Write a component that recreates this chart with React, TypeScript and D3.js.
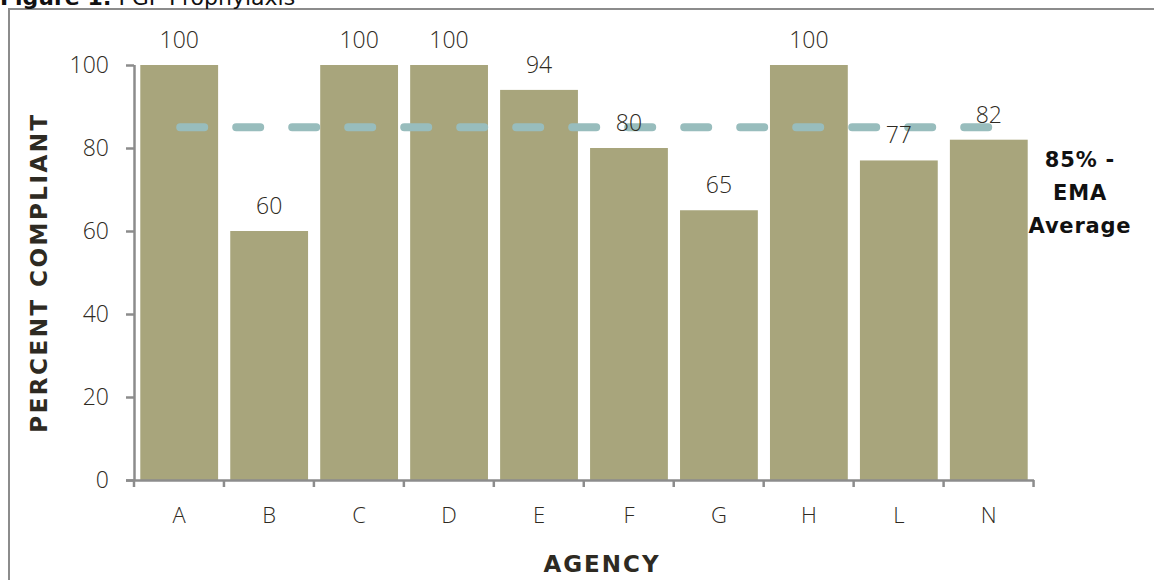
import * as d3 from "d3";
import { useRef, useEffect } from "react";

// chart values
const agencies = ["A", "B", "C", "D", "E", "F", "G", "H", "L", "N"];
const compliance = [100, 60, 100, 100, 94, 80, 65, 100, 77, 82];
const yTicks = [0, 20, 40, 60, 80, 100];
const emaAverage = 85;
const emaLabel = ["85% -", "EMA", "Average"];

const width = 1154;
const height = 580;
const marginLeft = 134;
const marginRight = 120;
const marginTop = 65;
const marginBottom = 100;

const barColor = "#a8a57c";
const dashColor = "#98bdbd";
const axisColor = "#8c8c8c";
const textColor = "#2e2a22";
const numFont = "'Open Sans', sans-serif";
const boldFont = "'DejaVu Sans', sans-serif";

const App = () => {
    const gx = useRef<SVGGElement>(null);
    const gy = useRef<SVGGElement>(null);

    const x = d3.scaleBand(agencies, [marginLeft, width - marginRight]).paddingInner(0.135).paddingOuter(0.07);
    const y = d3.scaleLinear([0, 100], [height - marginBottom, marginTop]);

    const line = d3.line<number>((d, i) => x(agencies[i])! + x.bandwidth() / 2, () => y(emaAverage));

    useEffect(() => {
        const ax = d3.select(gx.current!);
        ax.call(d3.axisBottom(x).tickSize(0).tickPadding(27) as any);
        ax.select(".domain").attr("stroke", axisColor).attr("stroke-width", 2.5)
            .attr("d", `M${marginLeft - 8},0.5H${width - marginRight}`);
        ax.selectAll(".tick text").attr("font-family", numFont).attr("font-weight", 300)
            .attr("font-size", 22).attr("fill", textColor);
        // boundary ticks between bands
        const step = x.step();
        ax.selectAll(".sep").data(d3.range(agencies.length + 1)).join("line")
            .attr("class", "sep")
            .attr("x1", i => marginLeft + i * step).attr("x2", i => marginLeft + i * step)
            .attr("y1", 0).attr("y2", 7)
            .attr("stroke", axisColor).attr("stroke-width", 2.5);
    }, []);

    useEffect(() => {
        const ay = d3.select(gy.current!);
        ay.call(d3.axisLeft(y).tickValues(yTicks).tickSize(8).tickPadding(17) as any);
        ay.select(".domain").attr("stroke", axisColor).attr("stroke-width", 2.5)
            .attr("d", `M0.5,${y(100)}V${y(0)}`);
        ay.selectAll(".tick line").attr("stroke", axisColor).attr("stroke-width", 2.5);
        ay.selectAll(".tick text").attr("font-family", numFont).attr("font-weight", 300)
            .attr("font-size", 23).attr("fill", textColor);
    }, []);

    return (
        <svg width={width} height={height} style={{ position: "absolute", left: 0, top: 0 }}>
            <rect width={width} height={height} fill="white" />
            {/* frame */}
            <path d={`M9,${height}V9H${width}`} fill="none" stroke={axisColor} strokeWidth={2} />
            <text x={0} y={5} fontFamily={boldFont} fontSize={22} fill="#111">
                <tspan fontWeight="bold">Figure 1:</tspan>
                <tspan> PGP Prophylaxis</tspan>
            </text>

            {compliance.map((v, i) => (
                <rect key={agencies[i]} x={x(agencies[i])} y={y(v)} width={x.bandwidth()}
                    height={y(0) - y(v)} fill={barColor} />
            ))}

            <path d={line(compliance) ?? ""} fill="none" stroke={dashColor} strokeWidth={8}
                strokeLinecap="round" strokeDasharray="24 32" strokeDashoffset={-1} />

            {compliance.map((v, i) => (
                <text key={"l" + agencies[i]} x={x(agencies[i])! + x.bandwidth() / 2} y={y(v) - 17}
                    textAnchor="middle" fontFamily={numFont} fontWeight={300} fontSize={23} fill={textColor}>
                    {v}
                </text>
            ))}

            <g ref={gx} transform={`translate(0,${height - marginBottom})`} />
            <g ref={gy} transform={`translate(${marginLeft},0)`} />

            <text x={1080} y={y(emaAverage) + 40} textAnchor="middle" fontFamily={boldFont}
                fontWeight="bold" fontSize={21} letterSpacing={0.8} fill="#111">
                {emaLabel.map((t, i) => (
                    <tspan key={t} x={1080} dy={i === 0 ? 0 : 33}>{t}</tspan>
                ))}
            </text>

            <text transform={`translate(47,${(y(0) + y(100)) / 2}) rotate(-90)`} textAnchor="middle"
                fontFamily={boldFont} fontWeight="bold" fontSize={23} letterSpacing={2.5} fill={textColor}>
                PERCENT COMPLIANT
            </text>
            <text x={602} y={572} textAnchor="middle"
                fontFamily={boldFont} fontWeight="bold" fontSize={23} letterSpacing={2} fill={textColor}>
                AGENCY
            </text>
        </svg>
    );
};

export default App;
